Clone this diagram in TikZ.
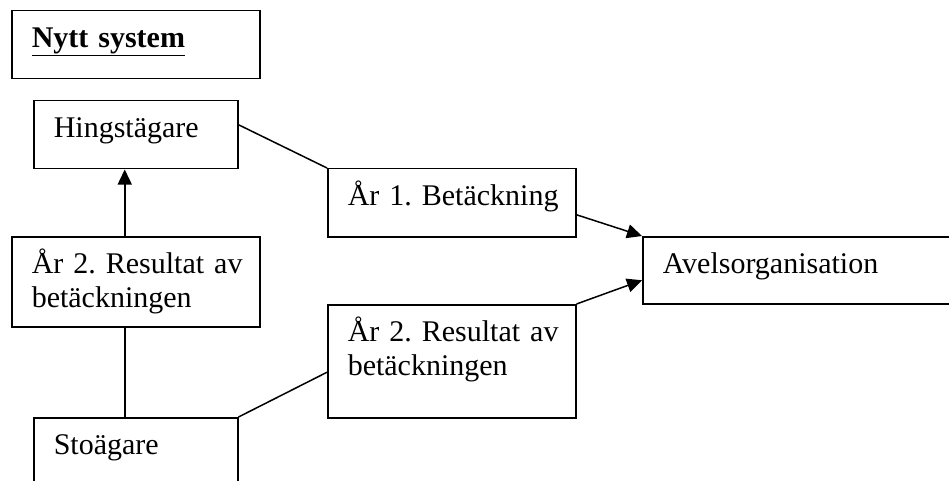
\documentclass[tikz,border=0pt]{standalone}
\usepackage{fontspec}
\setmainfont{Liberation Serif}
\usetikzlibrary{arrows.meta}
\tikzstyle{orgbox}=[draw,anchor=north west,inner xsep=20pt,inner ysep=0pt,text height=37pt,align=left,execute at begin node=\frenchspacing]

\begin{document}
\begin{tikzpicture}[x=1pt,y=-1pt,line width=1.5pt,font=\fontsize{30}{34}\selectfont,>={Triangle[length=15pt,width=14pt]}]
    \clip (0,0) rectangle (949,481);
    \node [orgbox,text width=208pt,text depth=31pt] (title) at (11,10) {\underline{\textbf{Nytt system}}};
    \node [orgbox,text width=164pt,text depth=31pt] (hingst) at (33,100) {Hingstägare};
    \node [orgbox,text width=208pt,text depth=31pt] (betack) at (327,168) {\mbox{År 1. Betäckning}};
    \node [orgbox,text width=290pt,text depth=30pt] (avel) at (642,236) {Avelsorganisation};
    \node [orgbox,text width=208pt,text depth=53pt] (result) at (11,236) {\mbox{År 2. Resultat av}\\betäckningen};
    \node [orgbox,text width=208pt,text depth=76pt] (resultmid) at (327,304) {\mbox{År 2. Resultat av}\\betäckningen};
    \node [orgbox,text width=164pt,text depth=40pt] (sto) at (33,417) {Stoägare};

    \draw [->] ([xshift=-11pt]result.north) -- ([xshift=-11pt]hingst.south);
    \draw ([xshift=-11pt]result.south) -- ([xshift=-11pt]sto.north);
    \draw ([yshift=10pt]hingst.east) -- (betack.north west);
    \draw [->] ([yshift=-12pt]betack.east) -- (avel.north west);
    \draw [->] (resultmid.north east) -- ([yshift=-10pt]avel.west);
    \draw (sto.north east) -- ([yshift=-11pt]resultmid.west);
\end{tikzpicture}
\end{document}
